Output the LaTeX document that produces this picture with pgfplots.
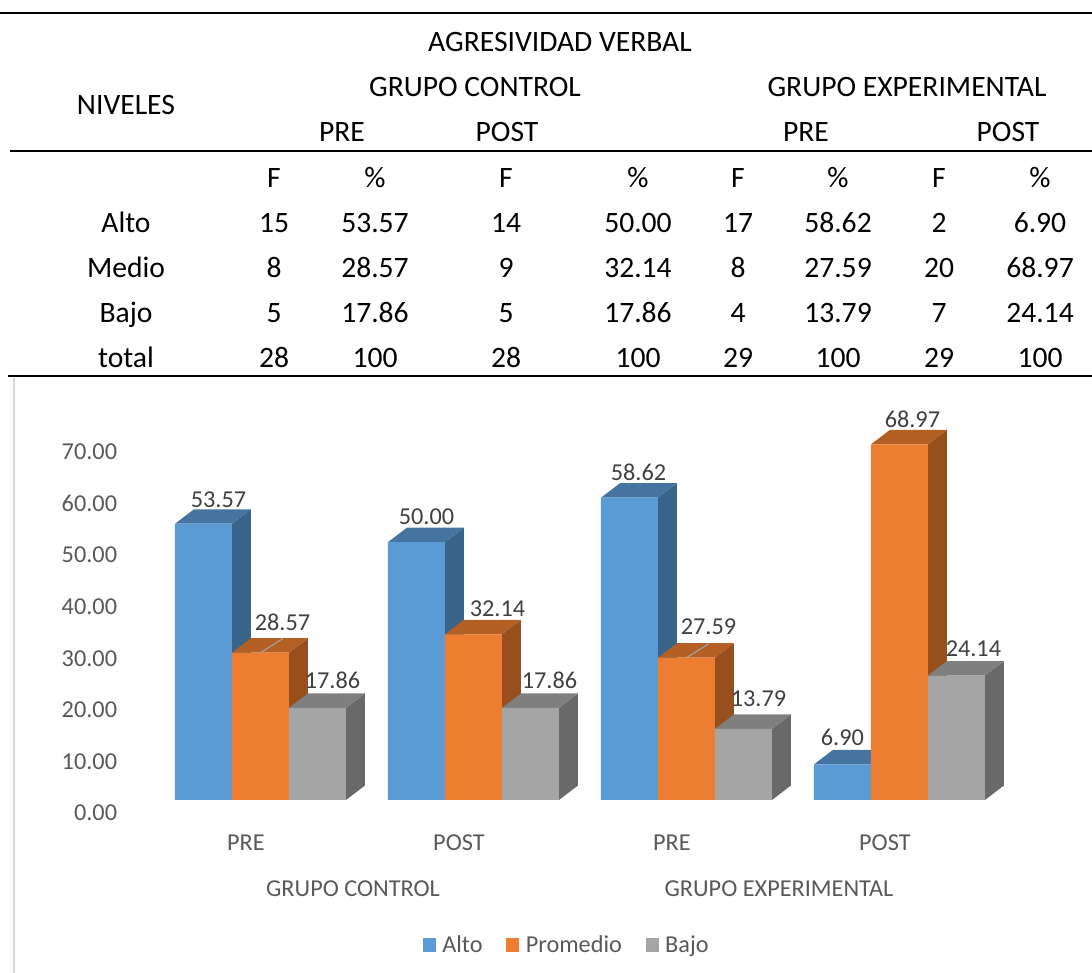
\documentclass[border=0pt]{standalone}
\usepackage{pgfplots}
\pgfplotsset{compat=1.18}
\usepackage{pgfplotstable}
\usepackage{fontspec}
\setmainfont{Carlito}
\definecolor{cA}{HTML}{5B9BD5}\definecolor{cAt}{HTML}{44749F}\definecolor{cAs}{HTML}{39648A}
\definecolor{cP}{HTML}{ED7D31}\definecolor{cPt}{HTML}{B45F24}\definecolor{cPs}{HTML}{974F1E}
\definecolor{cB}{HTML}{A5A5A5}\definecolor{cBt}{HTML}{7F7F7F}\definecolor{cBs}{HTML}{696969}
\definecolor{lab}{HTML}{595959}\definecolor{dat}{HTML}{404040}
% group, value, label offsets in px (from the top of the group's centre)
\pgfplotstableread{
g v lx ly
0 53.57 -42 24
1 50.00 -47 25
2 58.62 -48 25
3 6.90 -57 27
}\tA
\pgfplotstableread{
g v lx ly
0 28.57 22 30
1 32.14 24 26
2 27.59 22 31
3 68.97 13 25
}\tP
\pgfplotstableread{
g v lx ly
0 17.86 72 28
1 17.86 76 28
2 13.79 72 30
3 24.14 74 27
}\tB
\newcommand\faces[5]{% group, slot, value, top colour, side colour
  \pgfmathsetmacro\xa{#1+(#2-0.5)*0.26761}
  \pgfmathsetmacro\xb{#1+(#2+0.5)*0.26761}
  \pgfmathsetmacro\xc{\xa+0.0892}
  \pgfmathsetmacro\xd{\xb+0.0892}
  \pgfmathsetmacro\yt{#3+2.81}
  \edef\tmp{\noexpand\addplot[fill=#5,draw=none,forget plot] coordinates {(\xb,0)(\xd,2.81)(\xd,\yt)(\xb,#3)} -- cycle;
  \noexpand\addplot[fill=#4,draw=none,forget plot] coordinates {(\xa,#3)(\xb,#3)(\xd,\yt)(\xc,\yt)} -- cycle;}
  \tmp}
\pgfplotsset{barstyle/.style={ybar,bar width=42.75pt,draw=none,
  nodes near coords,point meta=y,
  visualization depends on={\thisrow{lx}*0.75 \as \lx},
  visualization depends on={\thisrow{ly}*0.75 \as \ly},
  every node near coord/.append style={anchor=center,xshift=\lx pt,yshift=\ly pt,text=dat,font=\fontsize{18.2}{18.2}\selectfont,inner sep=0pt,
    /pgf/number format/fixed,/pgf/number format/fixed zerofill,/pgf/number format/precision=2,/pgf/number format/assume math mode=true}}}
\begin{document}
\begin{tikzpicture}
\path[use as bounding box] (0,0) rectangle (819pt,729.75pt);
\begin{scope}[x=0.75pt,y=-0.75pt,yshift=729.75pt]
\draw[black,line width=1.5pt] (0,13)--(1092,13);
\draw[black,line width=1.5pt] (10,151)--(1092,151);
\draw[black,line width=1.5pt] (8,376)--(1092,376);
\draw[color=black!15,line width=1.5pt] (14,378)--(14,973);
\tikzset{t/.style={font=\fontsize{22.2}{22.2}\selectfont,text=black,inner sep=0pt,anchor=base}}
\newcommand\T[3]{\node[t] at (#1,#2+10) {#3};}
\T{560}{42}{AGRESIVIDAD VERBAL}
\T{126}{105}{NIVELES}
\T{475}{87}{GRUPO CONTROL}\T{907}{87}{GRUPO EXPERIMENTAL}
\T{342}{132}{PRE}\T{507}{132}{POST}\T{806}{132}{PRE}\T{1008}{132}{POST}
\T{274}{178}{F}\T{375}{178}{\%}\T{506}{178}{F}\T{638}{178}{\%}\T{738}{178}{F}\T{838}{178}{\%}\T{939}{178}{F}\T{1040}{178}{\%}
\T{126}{223}{Alto}\T{274}{223}{15}\T{375}{223}{53.57}\T{506}{223}{14}\T{638}{223}{50.00}\T{738}{223}{17}\T{838}{223}{58.62}\T{939}{223}{2}\T{1040}{223}{6.90}
\T{126}{268}{Medio}\T{274}{268}{8}\T{375}{268}{28.57}\T{506}{268}{9}\T{638}{268}{32.14}\T{738}{268}{8}\T{838}{268}{27.59}\T{939}{268}{20}\T{1040}{268}{68.97}
\T{126}{313}{Bajo}\T{274}{313}{5}\T{375}{313}{17.86}\T{506}{313}{5}\T{638}{313}{17.86}\T{738}{313}{4}\T{838}{313}{13.79}\T{939}{313}{7}\T{1040}{313}{24.14}
\T{126}{358}{total}\T{274}{358}{28}\T{375}{358}{100}\T{506}{358}{28}\T{638}{358}{100}\T{738}{358}{29}\T{838}{358}{100}\T{939}{358}{29}\T{1040}{358}{100}
\tikzset{g/.style={font=\fontsize{18.2}{18.2}\selectfont,text=lab,inner sep=0pt,anchor=base}}
\node[g] at (353,897) {GRUPO CONTROL};
\node[g] at (779,897) {GRUPO EXPERIMENTAL};
\end{scope}
\begin{axis}[
  at={(90pt,129.75pt)},anchor=south west,
  scale only axis,width=688.5pt,height=285pt,
  xmin=-0.6596,xmax=3.6507,ymin=0,ymax=73.69,
  clip=false,
  axis line style={draw=none},tick style={draw=none},
  xtick={0,1,2,3},xticklabels={PRE,POST,PRE,POST},
  ytick={0,10,...,70},
  ylabel={},
  yticklabel style={font=\fontsize{18.2}{18.2}\selectfont,text=lab,yshift=-9.75pt,inner sep=0pt,anchor=east,xshift=-2pt,
    /pgf/number format/fixed,/pgf/number format/fixed zerofill,/pgf/number format/precision=2,/pgf/number format/assume math mode=true},
  xticklabel style={font=\fontsize{18.2}{18.2}\selectfont,text=lab,xshift=-10.9pt,inner sep=0pt,anchor=base,yshift=-37.75pt},
  legend style={at={(0.4869,-0.3816)},anchor=center,draw=none,fill=none,legend columns=3,
    font=\fontsize{18.2}{18.2}\selectfont,text=lab,inner sep=0pt,
    /tikz/every odd column/.style={column sep=3pt},
    /tikz/every even column/.style={column sep=15.75pt}},
  legend image code/.code={\fill[#1] (0pt,-4.9pt) rectangle (9.75pt,4.9pt);},
]
\faces{0}{-1}{53.57}{cAt}{cAs}\faces{1}{-1}{50.00}{cAt}{cAs}\faces{2}{-1}{58.62}{cAt}{cAs}\faces{3}{-1}{6.90}{cAt}{cAs}
\addplot[barstyle,fill=cA,bar shift=-42.75pt] table[x=g,y=v]{\tA};
\addlegendentry{Alto}
\faces{0}{0}{28.57}{cPt}{cPs}\faces{1}{0}{32.14}{cPt}{cPs}\faces{2}{0}{27.59}{cPt}{cPs}\faces{3}{0}{68.97}{cPt}{cPs}
\addplot[barstyle,fill=cP,bar shift=0pt] table[x=g,y=v]{\tP};
\addlegendentry{Promedio}
\faces{0}{1}{17.86}{cBt}{cBs}\faces{1}{1}{17.86}{cBt}{cBs}\faces{2}{1}{13.79}{cBt}{cBs}\faces{3}{1}{24.14}{cBt}{cBs}
\addplot[barstyle,fill=cB,bar shift=42.75pt] table[x=g,y=v]{\tB};
\addlegendentry{Bajo}
\addplot[color=cB,line width=0.8pt,forget plot] coordinates {(0,28.57)(0.105,31.3)};
\addplot[color=cB,line width=0.8pt,forget plot] coordinates {(2,27.59)(2.105,30.3)};
\end{axis}
\end{tikzpicture}
\end{document}
